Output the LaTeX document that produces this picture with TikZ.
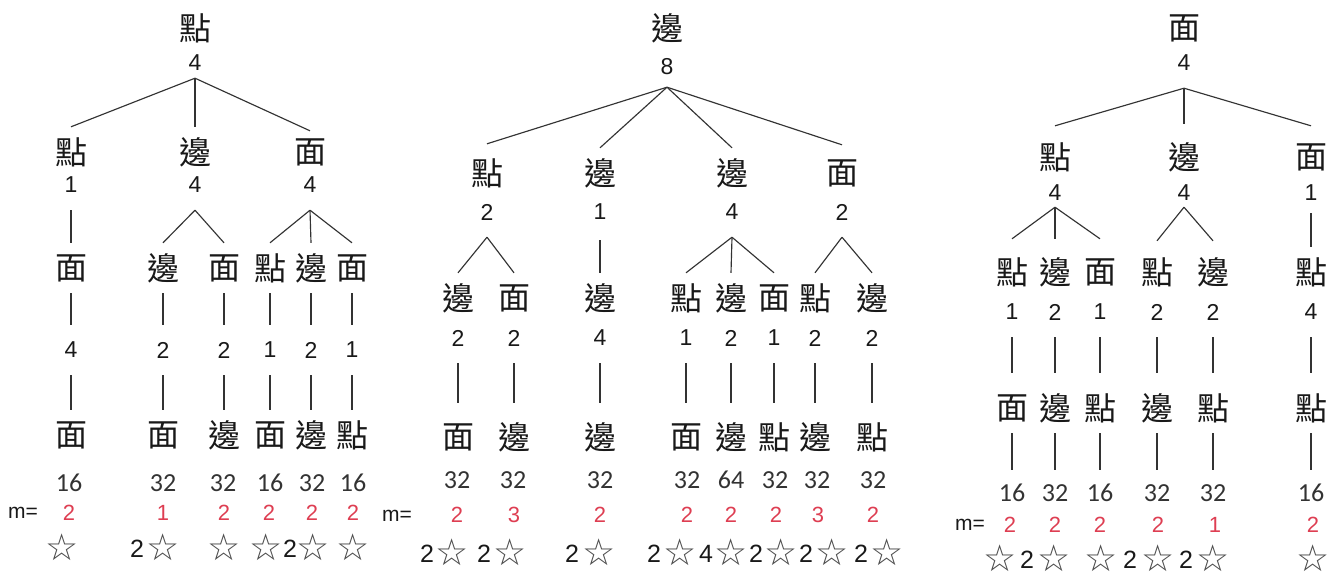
\documentclass[tikz,border=0pt]{standalone}
\usepackage{fontspec}
\newfontfamily\cjk{Noto Sans CJK TC}
\newfontfamily\arialf{Liberation Sans}
\newfontfamily\calib{Carlito}
\newfontfamily\dejavu{DejaVu Sans}
\definecolor{mred}{RGB}{222,62,82}
\begin{document}
\begin{tikzpicture}[x=1pt,y=-1pt,
  ch/.style={font=\cjk\fontsize{32}{32}\selectfont, inner sep=0pt, minimum height=50pt, text=black!90},
  num/.style={font=\arialf\fontsize{23}{23}\selectfont, inner sep=0pt, minimum height=50pt, text=black!90},
  cnt/.style={font=\calib\fontsize{26}{26}\selectfont, inner sep=0pt, minimum height=46pt, text=black!80},
  mv/.style={font=\arialf\fontsize{22}{22}\selectfont, inner sep=0pt, text=mred},
  mlab/.style={font=\arialf\fontsize{21}{21}\selectfont, inner sep=0pt, text=black!90},
  star/.style={font=\dejavu\fontsize{37}{37}\selectfont, inner sep=0pt, text=black!70},
  coef/.style={font=\arialf\fontsize{25}{25}\selectfont, inner sep=0pt, text=black!90},
  link/.style={draw=black!80, line width=1.15pt}]
\useasboundingbox[fill=white] (0,0) rectangle (1340,581);

% ================= Tree 1 =================
\node[ch]  (t1r)  at (195,28) {點};
\node[num] (t1rn) at (195,63) {4};
\node[ch]  (t1a)  at (71,152) {點};
\node[num] (t1an) at (71,185) {1};
\node[ch]  (t1b)  at (195,152) {邊};
\node[num] (t1bn) at (195,185) {4};
\node[ch]  (t1c)  at (310,152) {面};
\node[num] (t1cn) at (310,185) {4};
% level 2
\node[ch] (t1a1) at (71,268) {面};
\node[ch] (t1b1) at (163,268) {邊};
\node[ch] (t1b2) at (224,268) {面};
\node[ch] (t1c1) at (270,268) {點};
\node[ch] (t1c2) at (311,268) {邊};
\node[ch] (t1c3) at (352,268) {面};
\node[num] (t1a1n) at (71,350) {4};
\node[num] (t1b1n) at (163,350) {2};
\node[num] (t1b2n) at (224,350) {2};
\node[num] (t1c1n) at (270,350) {1};
\node[num] (t1c2n) at (311,350) {2};
\node[num] (t1c3n) at (352,350) {1};
\node[ch] (t1a1e) at (71,435) {面};
\node[ch] (t1b1e) at (163,435) {面};
\node[ch] (t1b2e) at (224,435) {邊};
\node[ch] (t1c1e) at (270,435) {面};
\node[ch] (t1c2e) at (311,435) {邊};
\node[ch] (t1c3e) at (352,435) {點};
\node[cnt] (t1k1) at (69,483) {16};
\node[cnt] (t1k2) at (163,483) {32};
\node[cnt] (t1k3) at (223,483) {32};
\node[cnt] (t1k4) at (270,483) {16};
\node[cnt] (t1k5) at (312,483) {32};
\node[cnt] (t1k6) at (353,483) {16};
\node[mlab] (t1m) at (23,513) {m=};
\node[mv] (t1m1) at (69,513) {2};
\node[mv] (t1m2) at (163,513) {1};
\node[mv] (t1m3) at (224,513) {2};
\node[mv] (t1m4) at (269,513) {2};
\node[mv] (t1m5) at (312,513) {2};
\node[mv] (t1m6) at (353,513) {2};
\node[star] (t1s1) at (62,547) {☆};
\node[coef] (t1q2) at (137,549) {2};
\node[star] (t1s2) at (163,547) {☆};
\node[star] (t1s3) at (224,547) {☆};
\node[star] (t1s4) at (266,547) {☆};
\node[coef] (t1q5) at (290,549) {2};
\node[star] (t1s5) at (313,547) {☆};
\node[star] (t1s6) at (353,547) {☆};

\draw[link] ([yshift=10pt]t1rn.south) -- (t1a.north);
\draw[link] ([yshift=10pt]t1rn.south) -- (t1b.north);
\draw[link] ([yshift=10pt]t1rn.south) -- ([yshift=-4pt]t1c.north);
\draw[link] (t1an.south) -- (t1a1.north);
\draw[link] (t1bn.south) -- (t1b1.north);
\draw[link] (t1bn.south) -- (t1b2.north);
\draw[link] (t1cn.south) -- (t1c1.north);
\draw[link] (t1cn.south) -- (t1c2.north);
\draw[link] (t1cn.south) -- (t1c3.north);
\foreach \n in {a1,b1,b2,c1,c2,c3}{
  \draw[link] (t1\n.south) -- (t1\n n.north);
  \draw[link] (t1\n n.south) -- (t1\n e.north);
}

% ================= Tree 2 =================
\node[ch]  (t2r)  at (667,28) {邊};
\node[num] (t2rn) at (667,67) {8};
\node[ch]  (t2a)  at (487,173) {點};
\node[num] (t2an) at (487,212) {2};
\node[ch]  (t2b)  at (600,173) {邊};
\node[num] (t2bn) at (600,212) {1};
\node[ch]  (t2c)  at (732,173) {邊};
\node[num] (t2cn) at (732,212) {4};
\node[ch]  (t2d)  at (842,173) {面};
\node[num] (t2dn) at (842,212) {2};
% level 2
\node[ch] (t2a1) at (458,298) {邊};
\node[ch] (t2a2) at (514,298) {面};
\node[ch] (t2b1) at (600,298) {邊};
\node[ch] (t2c1) at (686,298) {點};
\node[ch] (t2c2) at (731,298) {邊};
\node[ch] (t2c3) at (774,298) {面};
\node[ch] (t2d1) at (815,298) {點};
\node[ch] (t2d2) at (872,298) {邊};
\node[num] (t2a1n) at (458,338) {2};
\node[num] (t2a2n) at (514,338) {2};
\node[num] (t2b1n) at (600,338) {4};
\node[num] (t2c1n) at (686,338) {1};
\node[num] (t2c2n) at (731,338) {2};
\node[num] (t2c3n) at (774,338) {1};
\node[num] (t2d1n) at (815,338) {2};
\node[num] (t2d2n) at (872,338) {2};
\node[ch] (t2a1e) at (458,437) {面};
\node[ch] (t2a2e) at (514,437) {邊};
\node[ch] (t2b1e) at (600,437) {邊};
\node[ch] (t2c1e) at (686,437) {面};
\node[ch] (t2c2e) at (731,437) {邊};
\node[ch] (t2c3e) at (774,437) {點};
\node[ch] (t2d1e) at (815,437) {邊};
\node[ch] (t2d2e) at (872,437) {點};
\node[cnt] (t2k1) at (457,480) {32};
\node[cnt] (t2k2) at (513,480) {32};
\node[cnt] (t2k3) at (600,480) {32};
\node[cnt] (t2k4) at (687,480) {32};
\node[cnt] (t2k5) at (731,480) {64};
\node[cnt] (t2k6) at (775,480) {32};
\node[cnt] (t2k7) at (817,480) {32};
\node[cnt] (t2k8) at (873,480) {32};
\node[mlab] (t2m) at (397,516) {m=};
\node[mv] (t2m1) at (457,515) {2};
\node[mv] (t2m2) at (514,515) {3};
\node[mv] (t2m3) at (600,515) {2};
\node[mv] (t2m4) at (687,515) {2};
\node[mv] (t2m5) at (731,515) {2};
\node[mv] (t2m6) at (776,515) {2};
\node[mv] (t2m7) at (818,515) {3};
\node[mv] (t2m8) at (873,515) {2};
\node[coef] (t2q1) at (427,554) {2};
\node[star] (t2s1) at (452,552) {☆};
\node[coef] (t2q2) at (484,554) {2};
\node[star] (t2s2) at (510,552) {☆};
\node[coef] (t2q3) at (572,554) {2};
\node[star] (t2s3) at (599,552) {☆};
\node[coef] (t2q4) at (654,554) {2};
\node[star] (t2s4) at (680,552) {☆};
\node[coef] (t2q5) at (706,554) {4};
\node[star] (t2s5) at (731,552) {☆};
\node[coef] (t2q6) at (756,554) {2};
\node[star] (t2s6) at (781,552) {☆};
\node[coef] (t2q7) at (806,554) {2};
\node[star] (t2s7) at (832,552) {☆};
\node[coef] (t2q8) at (861,554) {2};
\node[star] (t2s8) at (887,552) {☆};

\draw[link] ([yshift=5pt]t2rn.south) -- ([yshift=4pt]t2a.north);
\draw[link] ([yshift=5pt]t2rn.south) -- (t2b.north);
\draw[link] ([yshift=5pt]t2rn.south) -- (t2c.north);
\draw[link] ([yshift=5pt]t2rn.south) -- ([yshift=3pt]t2d.north);
\draw[link] (t2an.south) -- (t2a1.north);
\draw[link] (t2an.south) -- (t2a2.north);
\draw[link] ([yshift=-3pt]t2bn.south) -- (t2b1.north);
\draw[link] (t2cn.south) -- (t2c1.north);
\draw[link] (t2cn.south) -- (t2c2.north);
\draw[link] (t2cn.south) -- (t2c3.north);
\draw[link] (t2dn.south) -- (t2d1.north);
\draw[link] (t2dn.south) -- (t2d2.north);
\foreach \n in {a1,a2,b1,c1,c2,c3,d1,d2}{
  \draw[link] (t2\n n.south) -- ([yshift=9pt]t2\n e.north);
}

% ================= Tree 3 =================
\node[ch]  (t3r)  at (1184,28) {面};
\node[num] (t3rn) at (1184,63) {4};
\node[ch]  (t3a)  at (1055,157) {點};
\node[num] (t3an) at (1055,193) {4};
\node[ch]  (t3b)  at (1184,157) {邊};
\node[num] (t3bn) at (1184,193) {4};
\node[ch]  (t3c)  at (1311,157) {面};
\node[num] (t3cn) at (1311,193) {1};
% level 2
\node[ch] (t3a1) at (1012,272) {點};
\node[ch] (t3a2) at (1055,272) {邊};
\node[ch] (t3a3) at (1100,272) {面};
\node[ch] (t3b1) at (1157,272) {點};
\node[ch] (t3b2) at (1213,272) {邊};
\node[ch] (t3c1) at (1311,272) {點};
\node[num] (t3a1n) at (1012,312) {1};
\node[num] (t3a2n) at (1055,312) {2};
\node[num] (t3a3n) at (1100,312) {1};
\node[num] (t3b1n) at (1157,312) {2};
\node[num] (t3b2n) at (1213,312) {2};
\node[num] (t3c1n) at (1311,312) {4};
\node[ch] (t3a1e) at (1012,408) {面};
\node[ch] (t3a2e) at (1055,408) {邊};
\node[ch] (t3a3e) at (1100,408) {點};
\node[ch] (t3b1e) at (1157,408) {邊};
\node[ch] (t3b2e) at (1213,408) {點};
\node[ch] (t3c1e) at (1311,408) {點};
\node[cnt] (t3a1k) at (1012,493) {16};
\node[cnt] (t3a2k) at (1055,493) {32};
\node[cnt] (t3a3k) at (1100,493) {16};
\node[cnt] (t3b1k) at (1157,493) {32};
\node[cnt] (t3b2k) at (1213,493) {32};
\node[cnt] (t3c1k) at (1311,493) {16};
\node[mlab] (t3m) at (970,525) {m=};
\node[mv] (t3m1) at (1010,525) {2};
\node[mv] (t3m2) at (1055,525) {2};
\node[mv] (t3m3) at (1100,525) {2};
\node[mv] (t3m4) at (1158,525) {2};
\node[mv] (t3m5) at (1215,525) {1};
\node[mv] (t3m6) at (1313,525) {2};
\node[star] (t3s1) at (1000,558) {☆};
\node[coef] (t3q2) at (1027,560) {2};
\node[star] (t3s2) at (1054,558) {☆};
\node[star] (t3s3) at (1101,558) {☆};
\node[coef] (t3q4) at (1130,560) {2};
\node[star] (t3s4) at (1158,558) {☆};
\node[coef] (t3q5) at (1186,560) {2};
\node[star] (t3s5) at (1213,558) {☆};
\node[star] (t3s6) at (1313,558) {☆};

\draw[link] (t3rn.south) -- ([yshift=6pt]t3a.north);
\draw[link] (t3rn.south) -- ([yshift=8pt]t3b.north);
\draw[link] (t3rn.south) -- ([yshift=6pt]t3c.north);
\draw[link] ([yshift=11pt]t3an.south) -- ([yshift=8pt]t3a1.north);
\draw[link] ([yshift=11pt]t3an.south) -- ([yshift=8pt]t3a2.north);
\draw[link] ([yshift=11pt]t3an.south) -- ([yshift=8pt]t3a3.north);
\draw[link] ([yshift=11pt]t3bn.south) -- ([yshift=6pt]t3b1.north);
\draw[link] ([yshift=11pt]t3bn.south) -- ([yshift=6pt]t3b2.north);
\draw[link] ([yshift=5pt]t3cn.south) -- (t3c1.north);
\foreach \n in {a1,a2,a3,b1,b2,c1}{
  \draw[link] (t3\n n.south) -- ([yshift=10pt]t3\n e.north);
  \draw[link] (t3\n e.south) -- (t3\n k.north);
}
\end{tikzpicture}
\end{document}
